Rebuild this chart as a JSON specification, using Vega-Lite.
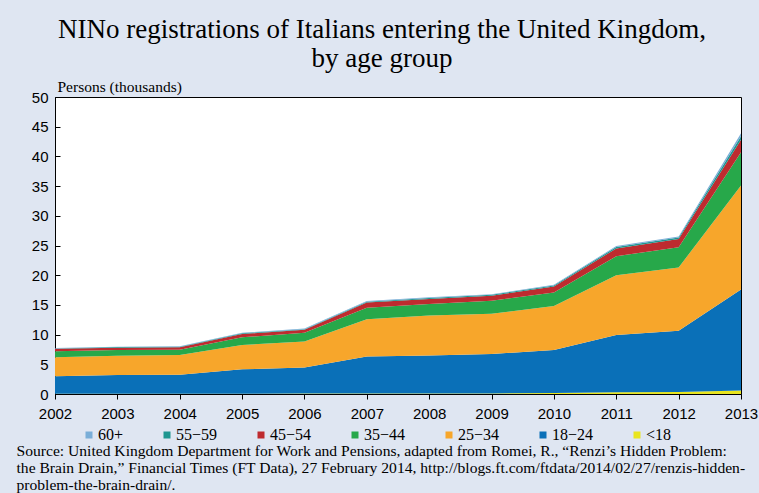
{
  "$schema": "https://vega.github.io/schema/vega-lite/v6.json",
  "width": 686,
  "height": 297,
  "autosize": {"type": "none"},
  "padding": {"left": 55, "top": 97, "right": 18, "bottom": 99},
  "background": "#dfe6f2",
  "view": {"fill": "white", "stroke": "black", "strokeWidth": 1},
  "title": {
    "text": ["NINo registrations of Italians entering the United Kingdom,", "by age group"],
    "font": "Liberation Serif",
    "fontSize": 27,
    "fontWeight": "normal",
    "color": "black",
    "anchor": "middle",
    "lineHeight": 29,
    "offset": 6,
    "dx": -16
  },
  "data": {
    "values": [
      {"year": 2002, "<18": 0.05, "18−24": 2.95, "25−34": 3.2, "35−44": 1.0, "45−54": 0.4, "55−59": 0.08, "60+": 0.07},
      {"year": 2003, "<18": 0.05, "18−24": 3.15, "25−34": 3.25, "35−44": 0.95, "45−54": 0.4, "55−59": 0.1, "60+": 0.07},
      {"year": 2004, "<18": 0.05, "18−24": 3.2, "25−34": 3.3, "35−44": 0.9, "45−54": 0.4, "55−59": 0.1, "60+": 0.07},
      {"year": 2005, "<18": 0.05, "18−24": 4.1, "25−34": 4.1, "35−44": 1.3, "45−54": 0.55, "55−59": 0.12, "60+": 0.1},
      {"year": 2006, "<18": 0.1, "18−24": 4.35, "25−34": 4.4, "35−44": 1.45, "45−54": 0.5, "55−59": 0.12, "60+": 0.1},
      {"year": 2007, "<18": 0.1, "18−24": 6.2, "25−34": 6.3, "35−44": 1.9, "45−54": 0.9, "55−59": 0.15, "60+": 0.1},
      {"year": 2008, "<18": 0.1, "18−24": 6.4, "25−34": 6.7, "35−44": 1.95, "45−54": 0.85, "55−59": 0.18, "60+": 0.12},
      {"year": 2009, "<18": 0.1, "18−24": 6.65, "25−34": 6.75, "35−44": 2.2, "45−54": 0.85, "55−59": 0.15, "60+": 0.1},
      {"year": 2010, "<18": 0.15, "18−24": 7.25, "25−34": 7.4, "35−44": 2.3, "45−54": 1.0, "55−59": 0.18, "60+": 0.12},
      {"year": 2011, "<18": 0.3, "18−24": 9.65, "25−34": 10.05, "35−44": 3.2, "45−54": 1.3, "55−59": 0.25, "60+": 0.15},
      {"year": 2012, "<18": 0.35, "18−24": 10.3, "25−34": 10.65, "35−44": 3.4, "45−54": 1.4, "55−59": 0.25, "60+": 0.15},
      {"year": 2013, "<18": 0.6, "18−24": 17.0, "25−34": 17.5, "35−44": 5.6, "45−54": 2.1, "55−59": 0.6, "60+": 0.5}
    ]
  },
  "transform": [
    {"fold": ["<18", "18−24", "25−34", "35−44", "45−54", "55−59", "60+"], "as": ["age", "value"]},
    {
      "lookup": "age",
      "from": {
        "data": {
          "values": [
            {"age": "<18", "rank": 1},
            {"age": "18−24", "rank": 2},
            {"age": "25−34", "rank": 3},
            {"age": "35−44", "rank": 4},
            {"age": "45−54", "rank": 5},
            {"age": "55−59", "rank": 6},
            {"age": "60+", "rank": 7}
          ]
        },
        "key": "age",
        "fields": ["rank"]
      }
    }
  ],
  "mark": {"type": "area", "opacity": 1},
  "encoding": {
    "x": {
      "field": "year",
      "type": "quantitative",
      "scale": {"domain": [2002, 2013], "nice": false, "zero": false},
      "axis": {
        "values": [2002, 2003, 2004, 2005, 2006, 2007, 2008, 2009, 2010, 2011, 2012, 2013],
        "format": "d",
        "grid": false,
        "tickSize": 5,
        "labelPadding": 7,
        "labelFlush": false,
        "labelFont": "Liberation Sans",
        "labelFontSize": 15,
        "labelColor": "black",
        "tickColor": "black",
        "domainColor": "black",
        "title": [
          "Source: United Kingdom Department for Work and Pensions, adapted from Romei, R., “Renzi’s Hidden Problem:",
          "the Brain Drain,” Financial Times (FT Data), 27 February 2014, http://blogs.ft.com/ftdata/2014/02/27/renzis-hidden-",
          "problem-the-brain-drain/."
        ],
        "titleX": -39,
        "titleY": 61,
        "titleAlign": "left",
        "titleAnchor": "start",
        "titleBaseline": "alphabetic",
        "titleFont": "Liberation Serif",
        "titleFontSize": 15.6,
        "titleFontWeight": "normal",
        "titleColor": "black",
        "titleLineHeight": 17
      }
    },
    "y": {
      "field": "value",
      "type": "quantitative",
      "stack": "zero",
      "scale": {"domain": [0, 50], "nice": false},
      "axis": {
        "values": [0, 5, 10, 15, 20, 25, 30, 35, 40, 45, 50],
        "grid": false,
        "tickSize": -5,
        "labelPadding": 12,
        "labelFont": "Liberation Sans",
        "labelFontSize": 15,
        "labelColor": "black",
        "tickColor": "black",
        "domainColor": "black",
        "title": "Persons (thousands)",
        "titleAngle": 0,
        "titleX": 2,
        "titleY": -6,
        "titleAlign": "left",
        "titleAnchor": "start",
        "titleBaseline": "alphabetic",
        "titleFont": "Liberation Serif",
        "titleFontSize": 15.5,
        "titleFontWeight": "normal",
        "titleColor": "black"
      }
    },
    "order": {"field": "rank", "type": "quantitative", "sort": "ascending"},
    "color": {
      "field": "age",
      "type": "nominal",
      "scale": {
        "domain": ["60+", "55−59", "45−54", "35−44", "25−34", "18−24", "<18"],
        "range": ["#7aaed8", "#1e9690", "#be2b2f", "#27a84a", "#f7a62b", "#0a70b8", "#e9e51e"]
      },
      "legend": {
        "orient": "none",
        "legendX": 26,
        "legendY": 330,
        "direction": "horizontal",
        "title": null,
        "symbolType": "square",
        "symbolSize": 49,
        "symbolStrokeWidth": 0,
        "symbolOpacity": 1,
        "labelFont": "Liberation Serif",
        "labelFontSize": 16,
        "labelColor": "black",
        "labelOffset": 1,
        "columnPadding": 35
      }
    }
  }
}
